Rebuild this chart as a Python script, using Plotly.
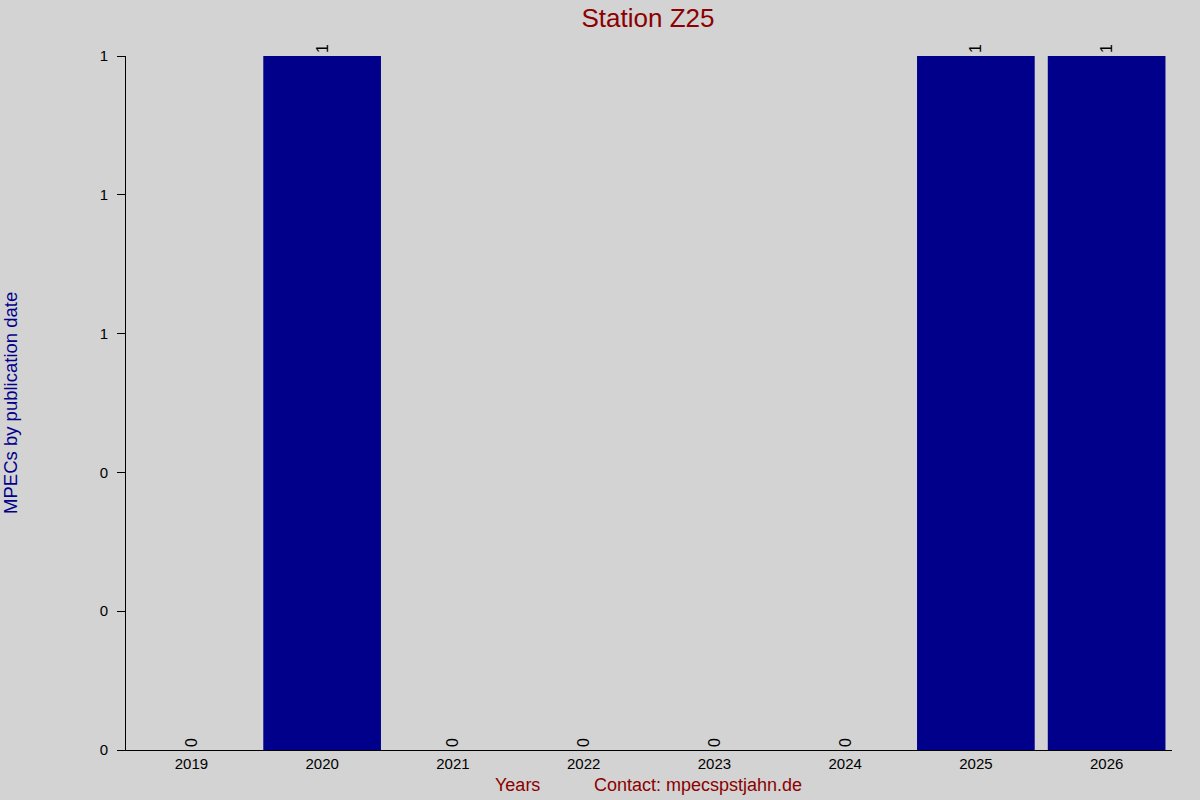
"""
Histogramme des MPEC par année de publication pour la station Z25.
"""

import plotly.graph_objects as go

# données
years = ["2019", "2020", "2021", "2022", "2023", "2024", "2025", "2026"]
mpecs = [0, 1, 0, 0, 0, 0, 1, 1]
y_ticks = [0, 0.2, 0.4, 0.6, 0.8, 1.0]

title = "Station Z25"
x_title = "Years"
contact = "Contact: mpecspstjahn.de"
y_title = "MPECs by publication date"

fig = go.Figure()
fig.add_trace(go.Bar(
    x=years, y=mpecs,
    marker_color="#00008b", marker_line_width=0,
    text=[str(v) for v in mpecs], textposition="outside",
    textangle=-90, textfont=dict(size=16, color="black"),
    cliponaxis=False,
))

fig.update_layout(
    width=1200, height=800,
    paper_bgcolor="#d3d3d3", plot_bgcolor="#d3d3d3",
    font=dict(family="Liberation Sans, Arial", color="black"),
    margin=dict(l=126, r=28, t=56, b=50),
    bargap=0.1,
    showlegend=False,
    title=dict(text=title, x=0.54, xanchor="center", y=0.978, yanchor="middle",
               font=dict(size=26, color="#8b0000")),
    xaxis=dict(showgrid=False, showline=True, linecolor="black", linewidth=1,
               ticks="", tickfont=dict(size=15), zeroline=False),
    yaxis=dict(range=[0, 1], showgrid=False, showline=True, linecolor="black",
               linewidth=1, ticks="outside", ticklen=8, tickcolor="black",
               tickvals=y_ticks, tickformat=".0f", tickfont=dict(size=15),
               ticklabelstandoff=6, zeroline=False),
    annotations=[
        dict(text=x_title, xref="paper", yref="paper", x=(517 - 126) / 1046,
             y=-0.051, yanchor="middle", showarrow=False,
             font=dict(size=18, color="#8b0000")),
        dict(text=contact, xref="paper", yref="paper", x=(698 - 126) / 1046,
             y=-0.051, yanchor="middle", showarrow=False,
             font=dict(size=18, color="#8b0000")),
        dict(text=y_title, xref="paper", yref="paper", x=-0.111, xanchor="center",
             y=(750 - 403) / 694, showarrow=False, textangle=-90,
             font=dict(size=18.5, color="#00008b")),
    ],
)

# pas de marge blanche autour de la figure
fig.write_html("out.html", config={"displayModeBar": False},
               post_script="document.body.style.margin='0';"
                           "document.body.style.background='#d3d3d3';")
